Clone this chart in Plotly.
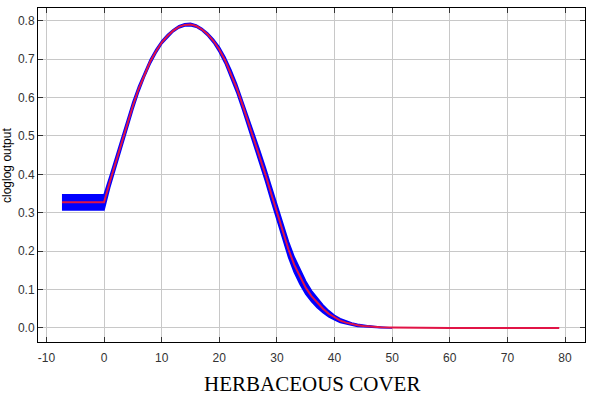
import plotly.graph_objects as go

# --- data (Maxent response curve) ---
x_vals = [-7.3, 0, 1, 2, 3, 4, 5, 6, 7, 8, 9, 10, 11, 12, 13, 14, 15, 16, 17, 18, 19,
          20, 21, 22, 23, 24, 25, 26, 27, 28, 29, 30, 31, 32, 33, 34, 35, 36, 37, 38,
          39, 40, 41, 42, 43, 44, 45, 46, 47, 48, 50, 52, 55, 60, 65, 70, 75, 79]
y_mean = [0.327, 0.327, 0.380, 0.430, 0.480, 0.528, 0.578, 0.622, 0.660, 0.693, 0.720,
          0.743, 0.760, 0.774, 0.784, 0.789, 0.790, 0.786, 0.777, 0.764, 0.747,
          0.725, 0.697, 0.663, 0.625, 0.582, 0.538, 0.493, 0.447, 0.400, 0.350,
          0.300, 0.252, 0.205, 0.165, 0.133, 0.105, 0.083, 0.065, 0.050, 0.037,
          0.027, 0.019, 0.014, 0.010, 0.007, 0.005, 0.0035, 0.0025, 0.0018, 0.001,
          0.0005, 0.0003, 0.0001, 0.0, 0.0, 0.0, 0.0]
y_std = [0.020, 0.020, 0.014, 0.013, 0.012, 0.011, 0.010, 0.008, 0.007, 0.006, 0.005,
         0.004, 0.004, 0.003, 0.003, 0.003, 0.003, 0.003, 0.003, 0.004, 0.005,
         0.007, 0.008, 0.010, 0.011, 0.012, 0.013, 0.014, 0.016, 0.017, 0.018,
         0.019, 0.020, 0.020, 0.020, 0.019, 0.017, 0.014, 0.012, 0.010, 0.008,
         0.006, 0.005, 0.004, 0.003, 0.003, 0.002, 0.002, 0.0015, 0.001, 0.0008,
         0.0, 0.0, 0.0, 0.0, 0.0, 0.0, 0.0]

x_ticks = [-10, 0, 10, 20, 30, 40, 50, 60, 70, 80]
y_ticks = [0.0, 0.1, 0.2, 0.3, 0.4, 0.5, 0.6, 0.7, 0.8]
x_title = "HERBACEOUS COVER"
y_title = "cloglog output"

# band polygon (mean +/- std), only where the band is drawn
band_x, band_hi, band_lo = [], [], []
for xv, m, s in zip(x_vals, y_mean, y_std):
    if xv <= 51.5:
        band_x.append(xv)
        band_hi.append(m + s)
        band_lo.append(m - s)

fig = go.Figure()
fig.add_trace(go.Scatter(
    x=band_x + band_x[::-1], y=band_hi + band_lo[::-1],
    fill="toself", fillcolor="#0000ff", mode="lines",
    line=dict(color="#0000ff", width=1.5), hoverinfo="skip", showlegend=False))
fig.add_trace(go.Scatter(
    x=x_vals, y=y_mean, mode="lines",
    line=dict(color="rgb(225,20,70)", width=2), showlegend=False))

axis_common = dict(
    showline=True, linecolor="black", linewidth=1, mirror="ticks",
    ticks="inside", ticklen=5, tickcolor="#333",
    showgrid=True, gridcolor="#c8c8c8", gridwidth=1, zeroline=False,
    tickfont=dict(family="Liberation Sans, Arial", size=12, color="#333"),
)

fig.update_layout(
    width=597, height=402,
    margin=dict(l=38, r=12, t=8, b=60),
    paper_bgcolor="white", plot_bgcolor="white",
    xaxis=dict(range=[-11.46, 83.47], tickvals=x_ticks,
               ticktext=[str(v) for v in x_ticks], ticklabelstandoff=5,
               **axis_common),
    yaxis=dict(range=[-0.0365, 0.833], tickvals=y_ticks,
               ticktext=["%.1f" % v for v in y_ticks], **axis_common),
    annotations=[
        dict(text=x_title, xref="paper", yref="paper", x=0.5, y=-0.085,
             xanchor="center", yanchor="top", showarrow=False,
             font=dict(family="Liberation Serif, Times New Roman", size=21, color="black")),
        dict(text=y_title, xref="paper", yref="paper", x=0, xshift=-31, y=0.527,
             xanchor="center", yanchor="middle", showarrow=False, textangle=-90,
             font=dict(family="Liberation Sans, Arial", size=12, color="black")),
    ],
)

fig.write_html("out.html")
